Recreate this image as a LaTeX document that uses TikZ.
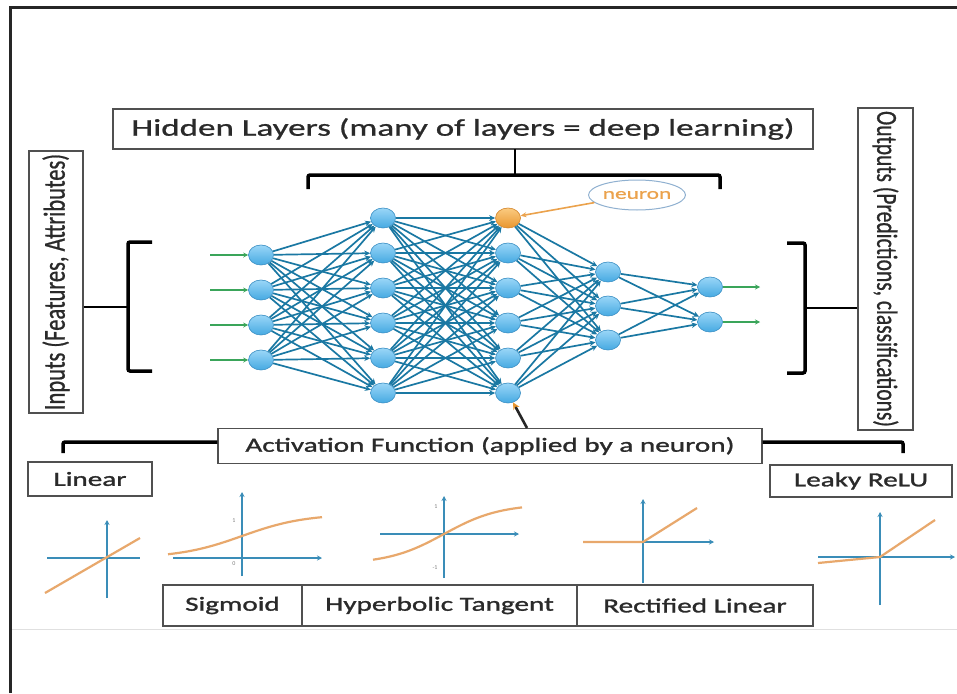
\documentclass[tikz,border=0pt]{standalone}
\usepackage{fontspec}
\setmainfont{Carlito}
\newfontfamily\wf[FakeStretch=1.46,FakeBold=0.9]{Carlito}
\newfontfamily\wfb[FakeStretch=1.46,FakeBold=1.4]{Carlito}
\newfontfamily\vf[FakeBold=0.9]{Carlito}
\usetikzlibrary{arrows.meta,shapes.geometric}
\definecolor{netblue}{HTML}{1A78A3}
\definecolor{nodefill}{HTML}{45A9E2}
\definecolor{nodetop}{HTML}{9AD6F7}
\definecolor{nodeedge}{HTML}{3A8FC4}
\definecolor{orfill}{HTML}{E8962F}
\definecolor{ortop}{HTML}{FBCB80}
\definecolor{oredge}{HTML}{D4852A}
\definecolor{neuorange}{HTML}{EBA24C}
\definecolor{ellblue}{HTML}{8FB0D0}
\definecolor{arrgreen}{HTML}{3AA55A}
\definecolor{axisblue}{HTML}{3A8DB8}
\definecolor{curveor}{HTML}{E8A86C}
\definecolor{boxline}{HTML}{505050}
\definecolor{txt}{HTML}{2A2A2A}
\begin{document}
\begin{tikzpicture}[x=1pt,y=-1pt,
  lbox/.style={draw=boxline, line width=1.2pt, inner sep=0pt, text=txt, fill=white},
  neu/.style={ellipse, draw=nodeedge, line width=0.6pt, top color=nodetop, bottom color=nodefill, minimum width=25pt, minimum height=20pt, inner sep=0pt},
  oneu/.style={neu, draw=oredge, top color=ortop, bottom color=orfill},
  conn/.style={netblue, line width=1.7pt, -{Stealth[length=6pt,width=5.5pt]}},
  garrow/.style={arrgreen, line width=1.8pt, -{Stealth[length=5pt,width=5pt]}},
  brk/.style={line width=3.5pt, black, rounded corners=2pt},
  stem/.style={line width=2.6pt, black},
  axis/.style={axisblue, line width=2.2pt},
  axarr/.style={axis, -{Stealth[length=5pt,width=5pt]}},
  curve/.style={curveor, line width=2.2pt},
  tick/.style={font=\fontsize{6}{6}\selectfont, text=gray, inner sep=0pt},
  big/.style={font=\wf\fontsize{24}{24}\selectfont},
  mid/.style={font=\wfb\fontsize{20}{20}\selectfont}
]
\useasboundingbox (0,0) rectangle (957,693);
\fill[white] (0,0) rectangle (957,693);
% frame
\draw[line width=3pt, black!85] (10,693) -- (10,8) -- (957,8);
\draw[black!12, line width=1pt] (12,629) -- (957,629);

% boxes
\node[lbox, big, minimum width=700pt, minimum height=40pt] (hid) at (463,129) {Hidden Layers (many of layers = deep learning)};
\node[lbox, rotate=90, minimum width=262pt, minimum height=54pt] (inp) at (56,282)
  {\scalebox{1}[1.35]{\vf\fontsize{22.5}{22.5}\selectfont Inputs (Features, Attributes)}};
\node[lbox, rotate=-90, minimum width=322pt, minimum height=55pt] (outp) at (885.5,269)
  {\scalebox{1}[1.35]{\vf\fontsize{21.5}{21.5}\selectfont Outputs (Predictions, classifications)}};
\node[lbox, mid, minimum width=544pt, minimum height=35pt] (act) at (490,446) {Activation Function (applied by a neuron)};
\node[lbox, mid, minimum width=124pt, minimum height=34pt] (lin) at (90,479) {Linear};
\node[lbox, mid, minimum width=182pt, minimum height=32pt] (leaky) at (861,481) {Leaky ReLU};
\node[lbox, mid, minimum width=139pt, minimum height=41pt] (sig) at (232.5,605.5) {Sigmoid};
\node[lbox, mid, minimum width=275pt, minimum height=41pt] (tanh) at (439.5,605.5) {Hyperbolic Tangent};
\node[lbox, mid, minimum width=236pt, minimum height=41pt] (relu) at (695,605.5) {Rectified Linear};

% brackets
\coordinate (hs) at (515,149);
\draw[stem] (hs) -- (515,175);
\draw[brk] (308,189) -- (308,175) -- (720,175) -- (720,189);
\draw[brk] (152,242) -- (128,242) -- (128,371) -- (152,371);
\draw[stem] (inp.south |- 0,307) -- (128,307);
\draw[brk] (787,243) -- (805,243) -- (805,373) -- (787,373);
\draw[stem] (outp.south |- 0,308) -- (805,308);
\draw[brk] (63,453) -- (63,442) -- (act.west |- 0,442);
\draw[brk] (act.east |- 0,442) -- (903,442) -- (903,453);

% network nodes
\foreach \k/\y in {1/255,2/290,3/325,4/360} \node[neu] (a\k) at (261,\y) {};
\foreach \k/\y in {1/218,2/253,3/288,4/323,5/358,6/393} \node[neu] (b\k) at (383,\y) {};
\node[oneu] (c1) at (508,218) {};
\foreach \k/\y in {2/253,3/288,4/323,5/358,6/393} \node[neu] (c\k) at (508,\y) {};
\foreach \k/\y in {1/272,2/306,3/340} \node[neu] (d\k) at (608,\y) {};
\foreach \k/\y in {1/287,2/322} \node[neu] (e\k) at (710,\y) {};

% connections
\foreach \i in {1,...,4} \foreach \j in {1,...,6} \draw[conn] (a\i) -- (b\j);
\foreach \i in {1,...,6} \foreach \j in {1,...,6} \draw[conn] (b\i) -- (c\j);
\foreach \i in {1,...,6} \foreach \j in {1,...,3} \draw[conn] (c\i) -- (d\j);
\foreach \i in {1,...,3} \foreach \j in {1,...,2} \draw[conn] (d\i) -- (e\j);

% input / output arrows
\foreach \k/\y in {1/255,2/290,3/325,4/360} {
  \coordinate (in\k) at (210,\y);
  \draw[garrow] (in\k) -- (a\k);
}
\foreach \k/\y in {1/287,2/322} {
  \coordinate (out\k) at (760,\y);
  \draw[garrow] (e\k) -- (out\k);
}

% neuron label
\node[ellipse, draw=ellblue, line width=1pt, minimum width=92pt, minimum height=30pt, inner sep=0pt,
      text=neuorange, font=\wf\fontsize{16}{16}\selectfont] (nl) at (637,195) {neuron};
\draw[neuorange, line width=1.6pt, -{Stealth[length=6pt,width=5pt]}] (nl) -- (c1);

% activation pointer
\coordinate (actp) at (527,428);
\draw[line width=2.6pt, black!85, -{Stealth[length=7pt,width=7pt,color=orfill]}] (actp) -- (c6);

% Linear graph
\draw[axarr] (107,598) -- (107,520);
\draw[axis] (47,558) -- (140,558);
\draw[curve] (45,593) -- (140,538);

% Sigmoid graph
\draw[axarr] (242,576) -- (242,492);
\draw[axarr] (173,558) -- (322,558);
\draw[curve] plot[domain=168:322, samples=60, smooth] (\x, {558-44/(1+exp(-0.032*(\x-242)))});
\node[tick] (s1) at (234,521) {1};
\node[tick] (s0) at (234,564) {0};

% Tanh graph
\draw[axarr] (444,578) -- (444,496);
\draw[axarr] (380,534) -- (519,534);
\draw[curve] plot[domain=373:522, samples=60, smooth] (\x, {534-30*tanh(0.018*(\x-444))});
\node[tick] (t1) at (436,507) {1};
\node[tick] (tm) at (435,568) {-1};

% ReLU graph
\draw[axarr] (643,583) -- (643,499);
\draw[axarr] (583,542) -- (714,542);
\draw[curve] (583,542) -- (643,542) -- (697,508);

% Leaky ReLU graph
\draw[axarr] (880,605) -- (880,512);
\draw[axarr] (818,557) -- (955,557);
\draw[curve] (818,563) -- (880,557) -- (935,520);
\end{tikzpicture}
\end{document}
